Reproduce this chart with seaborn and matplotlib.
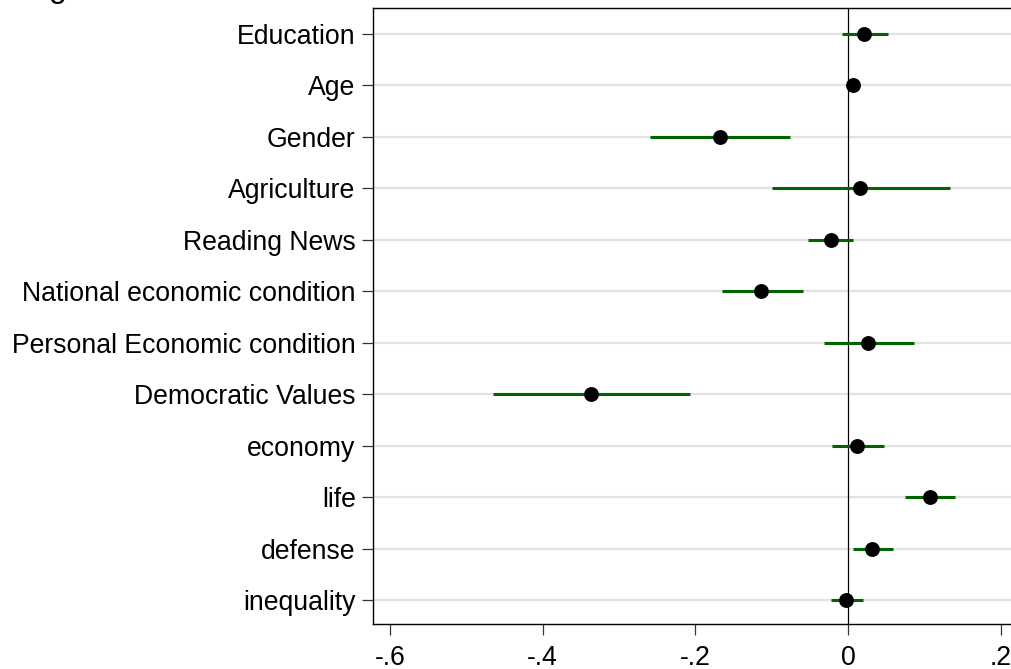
import matplotlib
matplotlib.use("Agg")
import matplotlib.pyplot as plt
import seaborn as sns
import pandas as pd

variables = ["Education", "Age", "Gender", "Agriculture", "Reading News",
             "National economic condition", "Personal Economic condition",
             "Democratic Values", "economy", "life", "defense", "inequality"]
estimates = [0.021, 0.007, -0.168, 0.016, -0.022, -0.114, 0.026, -0.336,
             0.012, 0.107, 0.032, -0.002]
ci_low = [-0.0075, 0.004, -0.259, -0.099, -0.052, -0.165, -0.032, -0.465,
          -0.021, 0.075, 0.0065, -0.0227]
ci_high = [0.052, 0.010, -0.076, 0.133, 0.007, -0.059, 0.087, -0.207,
           0.047, 0.140, 0.059, 0.0196]
x_ticks = [-0.6, -0.4, -0.2, 0.0, 0.2]
x_tick_labels = ["-.6", "-.4", "-.2", "0", ".2"]

df = pd.DataFrame({"variable": variables, "est": estimates,
                   "lo": ci_low, "hi": ci_high})
df["pos"] = range(len(df))

sns.set_theme(style="white")
plt.rcParams["font.family"] = ["Liberation Sans", "DejaVu Sans"]

fig = plt.figure(figsize=(10.11, 6.69), dpi=100)
ax = fig.add_axes([373 / 1011, 45.3 / 669, (1040 - 373) / 1011, 615.4 / 669])

for p in df["pos"]:
    ax.axhline(p, color="#e2e2e2", lw=1.6, zorder=0)

ax.axvline(0, color="black", lw=0.9, zorder=1)
ax.hlines(df["pos"], df["lo"], df["hi"], color="#006400", lw=2.2, zorder=2)
sns.scatterplot(data=df, x="est", y="pos", ax=ax, color="black", s=115,
                edgecolor="black", linewidth=0, zorder=3, legend=False)

ax.set_xlim(-0.622, 0.2515)
ax.set_ylim(len(df) - 1 + 0.46, -0.493)
ax.set_yticks(df["pos"])
ax.set_yticklabels(df["variable"])
ax.set_xticks(x_ticks)
ax.set_xticklabels(x_tick_labels)
ax.set_xlabel("")
ax.set_ylabel("")
ax.tick_params(axis="y", left=True, length=8, width=0.9, color="#333333",
               pad=4.5, labelsize=19.2, labelcolor="black")
ax.tick_params(axis="x", bottom=True, length=8, width=0.9, color="#333333",
               pad=7, labelsize=19.2, labelcolor="black")
for side in ["left", "bottom", "top"]:
    ax.spines[side].set_visible(True)
    ax.spines[side].set_color("black")
    ax.spines[side].set_linewidth(1.0)
ax.spines["right"].set_visible(False)

fig.text(49 / 1011, 1 + 2.5 / 669, "g", fontsize=23, ha="left",
         va="baseline", color="black")

fig.savefig("out.png", dpi=100, facecolor="white")
